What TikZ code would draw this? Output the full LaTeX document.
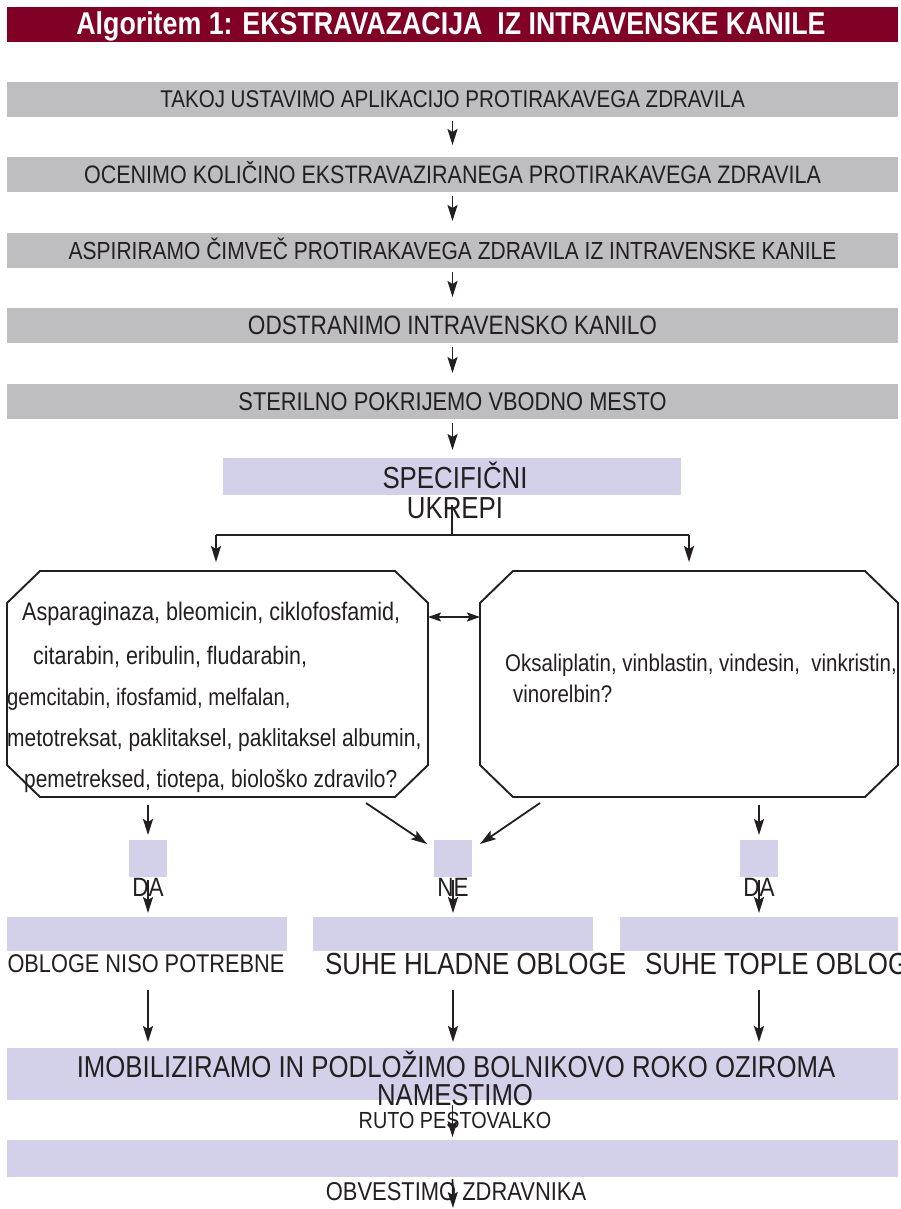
\documentclass[tikz,border=0pt]{standalone}
\usepackage{fontspec}
\setmainfont[FakeStretch=0.85]{Liberation Sans}
\usetikzlibrary{arrows.meta}
\definecolor{hdrred}{RGB}{128,0,38}
\definecolor{boxgray}{RGB}{190,190,192}
\definecolor{lav}{RGB}{211,209,233}
\definecolor{ink}{RGB}{35,31,32}
\newcommand{\fsz}[1]{\fontsize{#1}{#1}\selectfont}
\begin{document}
\begin{tikzpicture}[x=1pt,y=-1pt,
  every node/.style={inner sep=0pt, outer sep=0pt, text=ink},
  graybox/.style={fill=boxgray, minimum width=891pt, minimum height=35pt, anchor=north west, text height=17pt, text depth=0pt},
  lavbox/.style={fill=lav, anchor=north west},
  lbl/.style={anchor=base},
  arr/.style={draw=ink, line width=1.8pt, -{Stealth[length=16pt,width=10pt,inset=3pt]}},
  dblarr/.style={draw=ink, line width=1.8pt, {Stealth[length=13pt,width=9pt,inset=2.5pt]}-{Stealth[length=13pt,width=9pt,inset=2.5pt]}},
  plain/.style={draw=ink, line width=1.8pt},
  oct/.style={draw=ink, line width=1.9pt},
  frame/.style={anchor=north west}
]
\useasboundingbox (0,0) rectangle (901,1209);
\fill[white] (0,0) rectangle (901,1209);

% header
\node[fill=hdrred, minimum width=891pt, minimum height=35pt, anchor=north west] (hdr) at (7,7) {};
\node[lbl, text=white, font=\bfseries\fsz{31.5}] (hdrt) at (451,35) {Algoritem 1: EKSTRAVAZACIJA\ \ IZ INTRAVENSKE KANILE};

% gray steps
\node[graybox, font=\fsz{24.2}] (b1) at (7,82) {TAKOJ USTAVIMO APLIKACIJO PROTIRAKAVEGA ZDRAVILA};
\node[graybox, font=\fsz{25.3}] (b2) at (7,157) {OCENIMO KOLIČINO EKSTRAVAZIRANEGA PROTIRAKAVEGA ZDRAVILA};
\node[graybox, font=\fsz{24.7}] (b3) at (7,233) {ASPIRIRAMO ČIMVEČ PROTIRAKAVEGA ZDRAVILA IZ INTRAVENSKE KANILE};
\node[graybox, font=\fsz{26.6}] (b4) at (7,308) {ODSTRANIMO INTRAVENSKO KANILO};
\node[graybox, font=\fsz{25.7}] (b5) at (7,384) {STERILNO POKRIJEMO VBODNO MESTO};

% specific measures
\node[lavbox, minimum width=458pt, minimum height=37pt] (spec) at (223,458) {};
\node[lbl, font=\fsz{30.4}] (spect) at (455,488) {SPECIFIČNI};
\node[lbl, font=\fsz{30.4}] (ukr) at (455,518) {UKREPI};
\coordinate (split) at (452,535);
\coordinate (sl) at (216,535);
\coordinate (sr) at (689,535);

% octagons
\node[frame, minimum width=421pt, minimum height=226pt] (oL) at (7,571) {};
\node[frame, minimum width=418pt, minimum height=226pt] (oR) at (480,571) {};
\foreach \o in {oL,oR}{
  \draw[oct] ([xshift=33pt]\o.north west) -- ([xshift=-33pt]\o.north east) -- ([yshift=-32pt]\o.north east)
    -- ([yshift=32pt]\o.south east) -- ([xshift=-33pt]\o.south east) -- ([xshift=33pt]\o.south west)
    -- ([yshift=32pt]\o.south west) -- ([yshift=-32pt]\o.north west) -- cycle;
}
\begin{scope}[every node/.style={inner sep=0pt, text=ink, anchor=base west}]
\node[font=\fsz{25.4}] (l1) at (22,620) {Asparaginaza, bleomicin, ciklofosfamid,};
\node[font=\fsz{25.2}] (l2) at (33,664) {citarabin, eribulin, fludarabin,};
\node[font=\fsz{23.8}] (l3) at (7,705) {gemcitabin, ifosfamid, melfalan,};
\node[font=\fsz{24.7}] (l4) at (7,746) {metotreksat, paklitaksel, paklitaksel albumin,};
\node[font=\fsz{24.6}] (l5) at (24,787) {pemetreksed, tiotepa, biološko zdravilo?};
\node[font=\fsz{24.1}] (r1) at (505,671) {Oksaliplatin, vinblastin, vindesin,\ \ vinkristin,};
\node[font=\fsz{24.1}] (r2) at (513,702) {vinorelbin?};
\end{scope}

% DA / NE
\node[lavbox, minimum width=38pt, minimum height=37pt] (daL) at (129,840) {};
\node[lavbox, minimum width=38pt, minimum height=37pt] (ne) at (434,840) {};
\node[lavbox, minimum width=38pt, minimum height=37pt] (daR) at (740,840) {};
\node[lbl, font=\fsz{26.5}] (daLt) at (148,896) {DA};
\node[lbl, font=\fsz{26.5}] (net) at (453,896) {NE};
\node[lbl, font=\fsz{26.5}] (daRt) at (759,896) {DA};
\coordinate (dl) at (366,803);
\coordinate (dr) at (540,803);

% compresses
\node[lavbox, minimum width=280pt, minimum height=34pt] (wL) at (7,917) {};
\node[lavbox, minimum width=280pt, minimum height=34pt] (wM) at (313,917) {};
\node[lavbox, minimum width=278pt, minimum height=34pt] (wR) at (620,917) {};
\node[lbl, font=\fsz{25.6}] (wLt) at (146,972) {OBLOGE NISO POTREBNE};
\node[lbl, anchor=base west, font=\fsz{30.5}] (wMt) at (325,974) {SUHE HLADNE OBLOGE};
\node[lbl, anchor=base west, font=\fsz{30.5}] (wRt) at (645,974) {SUHE TOPLE OBLOGE};

% final steps
\node[lavbox, minimum width=891pt, minimum height=52pt] (big) at (7,1048) {};
\node[lbl, font=\fsz{30.3}] (bigt1) at (456,1077) {IMOBILIZIRAMO IN PODLOŽIMO BOLNIKOVO ROKO OZIROMA};
\node[lbl, font=\fsz{30.3}] (bigt2) at (455,1105) {NAMESTIMO};
\node[lbl, font=\fsz{23.3}] (bigt3) at (455,1128) {RUTO PESTOVALKO};
\node[lavbox, minimum width=891pt, minimum height=37pt] (last) at (7,1140) {};
\node[lbl, font=\fsz{25.8}] (lastt) at (456,1200) {OBVESTIMO ZDRAVNIKA};
\coordinate (endpt) at (453,1208);

% connectors
\draw[arr, shorten <=4pt, shorten >=12pt] (b1.south) -- (b2.north);
\draw[arr, shorten <=4pt, shorten >=12pt] (b2.south) -- (b3.north);
\draw[arr, shorten <=4pt, shorten >=11pt] (b3.south) -- (b4.north);
\draw[arr, shorten <=4pt, shorten >=11pt] (b4.south) -- (b5.north);
\draw[arr, shorten <=4pt, shorten >=8pt] (b5.south) -- (b5.south |- spec.north);
\draw[plain, shorten <=10pt] (spec.south) -- (split);
\draw[plain] (sl) -- (sr);
\draw[arr, shorten >=9pt] (sl) -- (sl |- oL.north);
\draw[arr, shorten >=9pt] (sr) -- (sr |- oR.north);
\draw[dblarr] (oL.east |- 0,617) -- (oR.west |- 0,617);
\draw[arr, shorten <=8pt, shorten >=5pt] (oL.south -| daL.north) -- (daL.north);
\draw[arr, shorten <=8pt, shorten >=5pt] (oR.south -| daR.north) -- (daR.north);
\draw[arr] (dl) -- ([xshift=-7pt,yshift=-4pt]ne.north west);
\draw[arr] (dr) -- ([xshift=8pt,yshift=-4pt]ne.north east);
\foreach \d in {daL,ne,daR}{
  \draw[arr, shorten <=3pt, shorten >=4pt] (\d.south) -- (\d.south |- wL.north);
  \draw[arr, shorten <=39pt, shorten >=6pt] (\d.south |- wL.south) -- (\d.south |- big.north);
}
\draw[arr, shorten <=5pt, shorten >=3pt] (big.south) -- (big.south |- last.north);
\draw[arr, shorten <=2pt] (last.south) -- (endpt);
\end{tikzpicture}
\end{document}
